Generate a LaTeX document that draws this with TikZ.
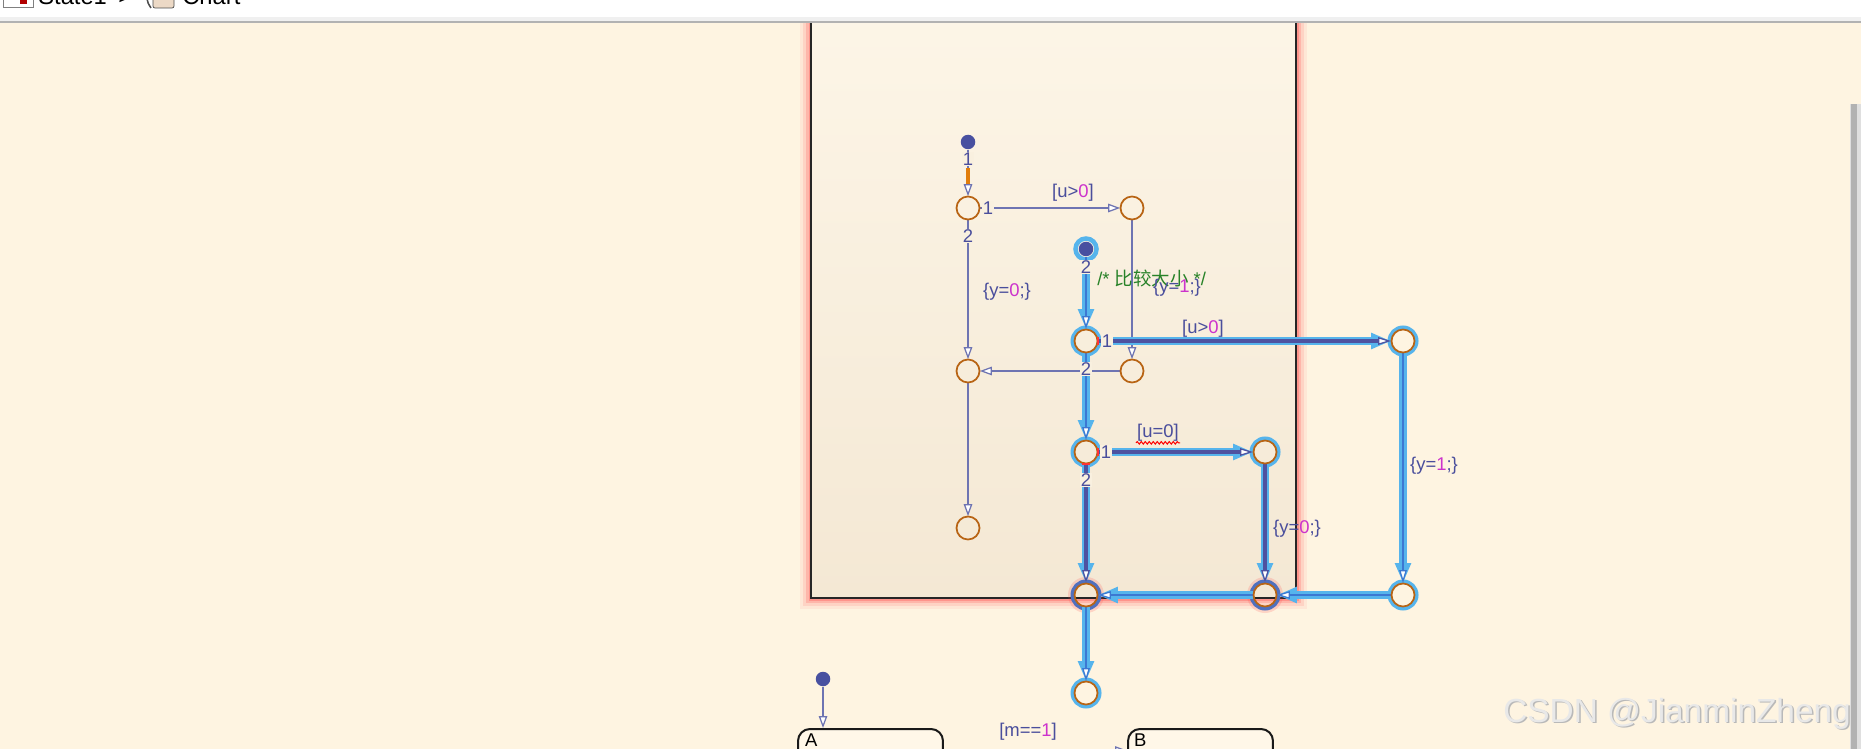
\documentclass[tikz,border=0pt]{standalone}
\usepackage{fontspec}
\setmainfont{Liberation Sans}
\newfontfamily\cjk{Noto Sans CJK SC}
\usetikzlibrary{arrows.meta, positioning, decorations.pathmorphing}

\definecolor{bgcream}{RGB}{254,244,225}
\definecolor{boxtop}{RGB}{253,246,232}
\definecolor{boxbot}{RGB}{244,232,212}
\definecolor{boxmid}{RGB}{249,240,223}
\definecolor{glowred}{RGB}{255,70,70}
\definecolor{dotcol}{RGB}{72,80,160}
\definecolor{trcol}{RGB}{110,116,178}
\definecolor{lblcol}{RGB}{74,78,156}
\definecolor{numcol}{RGB}{204,51,204}
\definecolor{juncol}{RGB}{184,100,20}
\definecolor{hlblue}{RGB}{86,180,236}
\definecolor{hlcore}{RGB}{78,82,160}
\definecolor{hlmid}{RGB}{60,120,210}
\definecolor{ringdk}{RGB}{80,112,190}
\definecolor{cmtcol}{RGB}{40,130,40}
\definecolor{stfill}{RGB}{255,247,232}
\definecolor{execor}{RGB}{225,125,10}

\newcommand\hlnum[1]{\textcolor{numcol}{#1}}

\tikzset{
  junc/.style={circle, minimum size=0.46cm, inner sep=0pt},
  dot/.style={circle, fill=dotcol, minimum size=0.29cm, inner sep=0pt},
  lbl/.style={text=lblcol, font=\fontsize{10.5}{12}\selectfont, inner sep=0.5pt},
  num/.style={lbl, fill=boxmid},
  cmt/.style={text=cmtcol, font=\fontsize{10.5}{12}\selectfont, inner sep=0pt},
  tr/.style={draw=trcol, line width=0.025cm, -{Triangle[open, fill=white, length=0.24cm, width=0.17cm]}},
  glow/.style={draw=hlblue, line width=0.16cm, -{Triangle[length=0.4cm, width=0.3cm]}},
  core/.style={draw=hlcore, line width=0.09cm, -{Triangle[open, fill=white, length=0.26cm, width=0.15cm, line width=0.025cm]}},
  wire/.style={draw=hlmid, line width=0.04cm, -{Triangle[open, fill=white, length=0.26cm, width=0.15cm, line width=0.025cm]}},
  ring/.style={draw=hlblue, line width=0.08cm},
  state/.style={draw=black!90, line width=0.04cm, rounded corners=0.24cm, fill=stfill,
    minimum width=2.9cm, minimum height=3cm, anchor=north west},
  hdr/.style={font=\fontsize{13.5}{15}\selectfont, inner sep=0pt},
  wm/.style={font=\fontsize{19}{22}\selectfont, inner sep=0pt}
}

\begin{document}
\begin{tikzpicture}[x=0.02cm, y=-0.02cm]
  \useasboundingbox (0,0) rectangle (1861,749);
  \clip (0,0) rectangle (1861,749);
  \fill[bgcream] (0,0) rectangle (1861,749);

  % Superzustand mit rotem Schein
  \foreach \w/\o in {0.44/0.07, 0.32/0.12, 0.2/0.2, 0.1/0.3}
    \draw[glowred, line width=\w cm, opacity=\o] (811,-20) rectangle (1296,598);
  \shade[top color=boxtop, bottom color=boxbot] (811,-20) rectangle (1296,598);
  \draw[black!85, line width=0.04cm] (811,-20) rectangle (1296,598);

  % Knoten
  \node[dot] (d1) at (968,142) {};
  \node[junc] (j1) at (968,208) {};
  \node[junc] (j2) at (1132,208) {};
  \node[dot] (d2) at (1086,249) {};
  \node[junc] (j3) at (968,371) {};
  \node[junc] (j4) at (1086,341) {};
  \node[junc] (j5) at (1132,371) {};
  \node[junc] (j6) at (1086,452) {};
  \node[junc] (j7) at (968,528) {};
  \node[junc] (j8) at (1265,452) {};
  \node[junc] (j9) at (1403,341) {};
  \node[junc] (j10) at (1403,595) {};
  \node[junc] (j11) at (1086,595) {};
  \node[junc] (j12) at (1265,595) {};
  \node[junc] (j13) at (1086,693) {};
  \node[dot] (d3) at (823,679) {};
  \node[state] (stA) at (797,728) {};
  \node[state] (stB) at (1127,728) {};

  % Ringe der aktiven Knoten
  \draw[hlblue, line width=0.09cm] (d2.center) circle[radius=0.21cm];
  \foreach \j in {j4, j6, j8, j9, j10, j13}
    \draw[ring] (\j.center) circle[radius=0.27cm];
  \foreach \j in {j11, j12} {
    \draw[glowred, opacity=0.18, line width=0.08cm] (\j.center) circle[radius=0.32cm];
    \draw[ringdk, line width=0.08cm] (\j.center) circle[radius=0.27cm];
  }

  % Uebergaenge
  \draw[tr] (d1) -- (j1);
  \draw[execor, line width=0.08cm] ([yshift=-0.52cm]d1.center) -- ([yshift=-0.84cm]d1.center);
  \draw[tr] (j1) -- (j2);
  \draw[tr] (j1) -- (j3);
  \draw[tr] (j2) -- (j5);
  \draw[tr] (j5) -- (j3);
  \draw[tr] (j3) -- (j7);
  \draw[tr] (d3) -- (d3 |- stA.north);
  \draw[tr] ([yshift=-0.45cm]stA.north east) -- ([yshift=-0.45cm]stB.north west);

  \foreach \a/\b in {d2/j4, j4/j6, j4/j9, j6/j8, j6/j11, j8/j12, j9/j10, j10/j12, j12/j11, j11/j13}
    \draw[glow] (\a) -- (\b);
  \foreach \a/\b in {d2/j4, j4/j6, j9/j10, j10/j12, j12/j11, j11/j13}
    \draw[wire] (\a) -- (\b);
  \foreach \a/\b in {j4/j9, j6/j8, j6/j11, j8/j12}
    \draw[core] (\a) -- (\b);

  \foreach \j in {1,...,13}
    \draw[juncol, line width=0.035cm] (j\j.center) circle[radius=0.23cm];
  \draw[red!80, line width=0.04cm] (1097.5,337) -- (1097.5,345);
  \draw[red!80, line width=0.04cm] (1097.5,448) -- (1097.5,456);
  \draw[red!80, line width=0.04cm] (1082,463.5) -- (1090,463.5);

  % Beschriftungen
  \node[num] (o1) at (968,159) {1};
  \node[num] (o2) at (988,208) {1};
  \node[num] (o3) at (968,236) {2};
  \node[lbl] (g1) at (1073,193) {[u>\hlnum{0}]};
  \node[lbl] (a1) at (1007,292) {\{y=\hlnum{0};\}};
  \node[cmt, anchor=west] (c1) at (1097,278) {/* {\cjk 比较大小} */};
  \node[lbl] (a2) at (1177,288) {\{y=\hlnum{1};\}};
  \node[num] (o4) at (1086,267) {2};
  \node[num] (o5) at (1107,341) {1};
  \node[lbl] (g2) at (1203,329) {[u>\hlnum{0}]};
  \node[num] (o6) at (1086,369) {2};
  \node[num] (o7) at (1106,452) {1};
  \node[lbl] (g3) at (1158,433) {[u=0]};
  \draw[red, line width=0.02cm, decorate, decoration={snake, amplitude=0.025cm, segment length=0.08cm}]
    (g3.south west) -- (g3.south east);
  \node[num] (o8) at (1086,480) {2};
  \node[lbl] (a3) at (1297,529) {\{y=\hlnum{0};\}};
  \node[lbl] (a4) at (1434,466) {\{y=\hlnum{1};\}};
  \node[lbl] (g4) at (1028,732) {[m==\hlnum{1}]};
  \node[lbl, text=black, anchor=north west] (tA) at (804,733) {A};
  \node[lbl, text=black, anchor=north west] (tB) at (1133,733) {B};

  % Wasserzeichen und Rollbalken
  \node[wm, text=gray!55, anchor=base west] (wms) at (1504.5,723.5) {CSDN @JianminZheng};
  \node[wm, text=gray!18, anchor=base west] (wmt) at (1503,722) {CSDN @JianminZheng};
  \fill[gray!25] (1850,104) rectangle (1861,749);
  \fill[gray!60] (1851,104) rectangle (1857,749);

  % Kopfzeile
  \fill[white] (0,0) rectangle (1861,17);
  \fill[gray!12] (0,17) rectangle (1861,21);
  \fill[gray!60] (0,21) rectangle (1861,23.5);
  \draw[gray, fill=white] (3,-10) rectangle (33,7);
  \fill[red!70!black] (20,-10) rectangle (27,4);
  \draw[black!70, fill=brown!30, rounded corners=0.04cm] (153,-10) rectangle (174,8);
  \draw[black!70, line width=0.03cm] (151,-10) .. controls (146,0) .. (151,8);
  \node[hdr, anchor=base west] (cr1) at (38,5) {State1};
  \node[hdr, anchor=base west] (cr2) at (118,5) {>};
  \node[hdr, anchor=base west] (cr3) at (182,5) {Chart};
\end{tikzpicture}
\end{document}
